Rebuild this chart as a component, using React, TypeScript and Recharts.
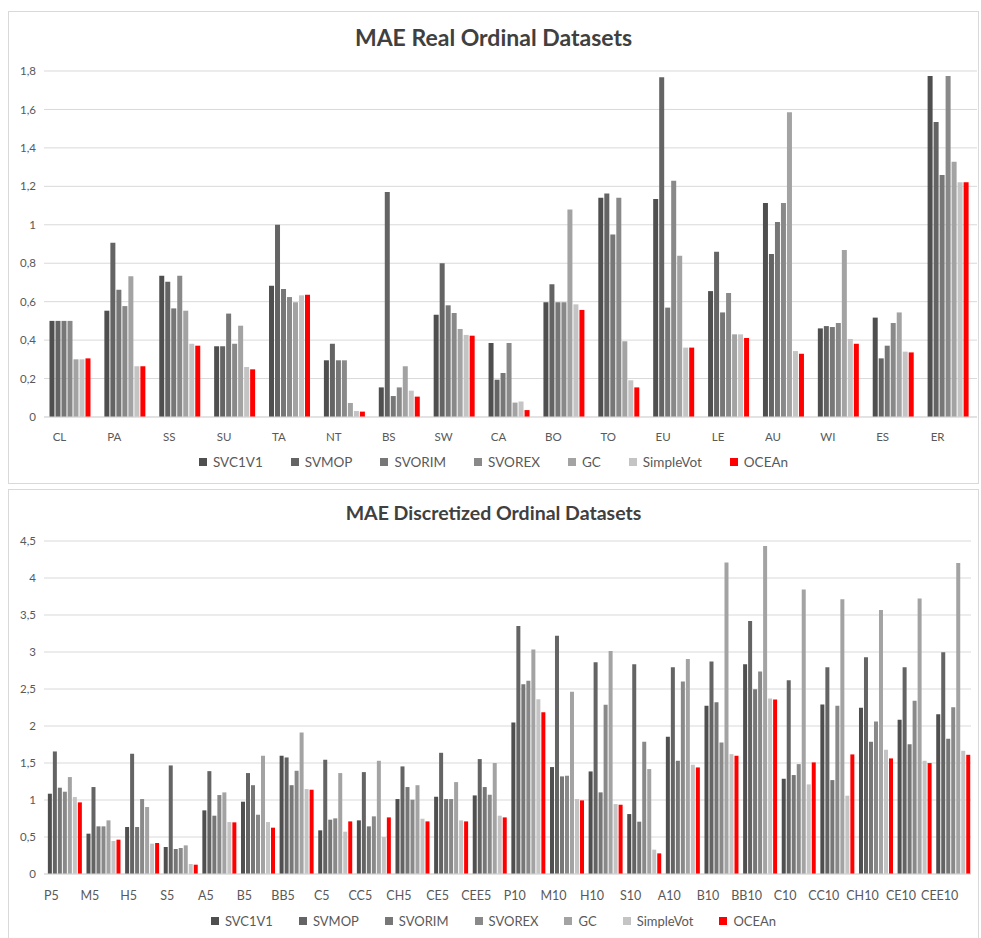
import React from 'react';
import { BarChart, Bar, XAxis, YAxis, CartesianGrid } from 'recharts';

const METHODS = ['SVC1V1', 'SVMOP', 'SVORIM', 'SVOREX', 'GC', 'SimpleVot', 'OCEAn'];
const COLORS = ['#4f4f4f', '#646464', '#777777', '#898989', '#a3a3a3', '#c4c4c4', '#ff0000'];

// top chart: real ordinal datasets
const realNames = ['CL', 'PA', 'SS', 'SU', 'TA', 'NT', 'BS', 'SW', 'CA', 'BO', 'TO', 'EU', 'LE', 'AU', 'WI', 'ES', 'ER'];
const realSVC1V1 = [0.5, 0.553, 0.735, 0.368, 0.683, 0.295, 0.154, 0.532, 0.385, 0.597, 1.141, 1.134, 0.655, 1.113, 0.461, 0.517, 1.774];
const realSVMOP = [0.5, 0.907, 0.704, 0.368, 1.0, 0.381, 1.17, 0.8, 0.194, 0.69, 1.163, 1.767, 0.86, 0.848, 0.473, 0.305, 1.535];
const realSVORIM = [0.5, 0.662, 0.565, 0.538, 0.666, 0.295, 0.109, 0.581, 0.229, 0.597, 0.95, 0.569, 0.544, 1.014, 0.468, 0.371, 1.259];
const realSVOREX = [0.5, 0.577, 0.735, 0.381, 0.624, 0.295, 0.154, 0.541, 0.385, 0.597, 1.141, 1.229, 0.645, 1.113, 0.489, 0.489, 1.774];
const realGC = [0.3, 0.732, 0.553, 0.475, 0.597, 0.073, 0.264, 0.458, 0.075, 1.079, 0.394, 0.839, 0.43, 1.585, 0.869, 0.544, 1.328];
const realSimpleVot = [0.3, 0.264, 0.381, 0.26, 0.633, 0.031, 0.137, 0.427, 0.08, 0.586, 0.191, 0.361, 0.43, 0.343, 0.406, 0.34, 1.221];
const realOCEAn = [0.305, 0.264, 0.371, 0.248, 0.636, 0.028, 0.106, 0.423, 0.036, 0.557, 0.154, 0.361, 0.411, 0.329, 0.381, 0.336, 1.221];
const realTicks = [0, 0.2, 0.4, 0.6, 0.8, 1, 1.2, 1.4, 1.6, 1.8];

// bottom chart: discretized ordinal datasets
const discNames = ['P5', 'M5', 'H5', 'S5', 'A5', 'B5', 'BB5', 'C5', 'CC5', 'CH5', 'CE5', 'CEE5', 'P10', 'M10', 'H10', 'S10', 'A10', 'B10', 'BB10', 'C10', 'CC10', 'CH10', 'CE10', 'CEE10'];
const discSVC1V1 = [1.085, 0.545, 0.635, 0.365, 0.86, 0.977, 1.598, 0.59, 0.725, 1.013, 1.044, 1.062, 2.048, 1.445, 1.386, 0.81, 1.854, 2.273, 2.835, 1.287, 2.291, 2.246, 2.084, 2.16];
const discSVMOP = [1.656, 1.175, 1.625, 1.467, 1.39, 1.364, 1.575, 1.544, 1.377, 1.454, 1.638, 1.553, 3.353, 3.218, 2.862, 2.835, 2.795, 2.871, 3.42, 2.619, 2.795, 2.93, 2.795, 2.997];
const discSVORIM = [1.166, 0.644, 0.635, 0.338, 0.788, 1.2, 1.2, 0.734, 0.644, 1.175, 1.013, 1.175, 2.565, 1.319, 1.103, 0.707, 1.53, 2.322, 2.498, 1.337, 1.269, 1.787, 1.755, 1.827];
const discSVOREX = [1.112, 0.644, 1.013, 0.351, 1.067, 0.801, 1.395, 0.752, 0.779, 1.004, 1.013, 1.071, 2.61, 1.328, 2.286, 1.787, 2.601, 1.778, 2.736, 1.485, 2.273, 2.061, 2.34, 2.255];
const discGC = [1.31, 0.725, 0.905, 0.387, 1.103, 1.598, 1.913, 1.364, 1.53, 1.2, 1.242, 1.5, 3.033, 2.462, 3.015, 1.418, 2.907, 4.208, 4.433, 3.843, 3.713, 3.569, 3.722, 4.203];
const discSimpleVot = [1.04, 0.446, 0.41, 0.135, 0.702, 0.702, 1.148, 0.572, 0.5, 0.747, 0.725, 0.788, 2.363, 1.013, 0.945, 0.329, 1.476, 1.62, 2.372, 1.211, 1.058, 1.679, 1.53, 1.665];
const discOCEAn = [0.968, 0.464, 0.419, 0.126, 0.698, 0.626, 1.139, 0.711, 0.765, 0.711, 0.711, 0.765, 2.187, 0.995, 0.936, 0.279, 1.44, 1.598, 2.358, 1.508, 1.616, 1.562, 1.499, 1.611];
const discTicks = [0, 0.5, 1, 1.5, 2, 2.5, 3, 3.5, 4, 4.5];

const buildRows = (names: string[], series: number[][]) =>
  names.map((name, i) => {
    const row: any = { name };
    METHODS.forEach((m, j) => { row[m] = series[j][i]; });
    return row;
  });

const realData = buildRows(realNames, [realSVC1V1, realSVMOP, realSVORIM, realSVOREX, realGC, realSimpleVot, realOCEAn]);
const discData = buildRows(discNames, [discSVC1V1, discSVMOP, discSVORIM, discSVOREX, discGC, discSimpleVot, discOCEAn]);

const FONT = 'Lato, "Open Sans", sans-serif';
const TEXT = '#595959';

const commaFmt = (v: number) => String(v).replace('.', ',');

const makeTick = (fontSize: number, dy: number) => (props: any) => {
  const { x, y, payload } = props;
  return (
    <text x={x - 12} y={y + dy} textAnchor="middle" fill={TEXT} fontSize={fontSize} fontFamily={FONT}>
      {payload.value}
    </text>
  );
};

const ChartLegend: React.FC<{ fontSize: number; gap: number }> = ({ fontSize, gap }) => (
  <div style={{ display: 'flex', justifyContent: 'center', gap, fontFamily: FONT, fontSize, color: TEXT }}>
    {METHODS.map((m, i) => (
      <div key={m} style={{ display: 'flex', alignItems: 'center' }}>
        <span style={{ width: 8, height: 8, background: COLORS[i], marginRight: 6, display: 'inline-block' }} />
        {m}
      </div>
    ))}
  </div>
);

interface PanelProps {
  title: string;
  data: any[];
  ticks: number[];
  top: number;
  height: number;
  chartHeight: number;
  margin: { top: number; right: number; left: number; bottom: number };
  titleTop: number;
  titleSize: number;
  legendTop: number;
  legendSize: number;
  legendGap: number;
  xFont: number;
  xDy: number;
}

const Panel: React.FC<PanelProps> = (p) => (
  <div style={{ position: 'absolute', left: 8, top: p.top, width: 969, height: p.height, border: '1px solid #d9d9d9', background: '#fff' }}>
    <div style={{ position: 'absolute', left: 0, right: 0, top: p.titleTop, textAlign: 'center', fontFamily: FONT, fontWeight: 700, fontSize: p.titleSize, color: '#404040' }}>
      {p.title}
    </div>
    <BarChart width={969} height={p.chartHeight} data={p.data} margin={p.margin} barGap={1} barCategoryGap="10%">
      <CartesianGrid vertical={false} stroke="#d9d9d9" />
      <XAxis dataKey="name" height={30} axisLine={{ stroke: '#d9d9d9' }} tickLine={false} interval={0} tick={makeTick(p.xFont, p.xDy)} />
      <YAxis width={35} domain={[0, p.ticks[p.ticks.length - 1]]} ticks={p.ticks} axisLine={false} tickLine={false}
        tickFormatter={commaFmt} tick={{ fill: TEXT, fontSize: 11.5, fontFamily: FONT }} />
      {METHODS.map((m, i) => (
        <Bar key={m} dataKey={m} fill={COLORS[i]} isAnimationActive={false} />
      ))}
    </BarChart>
    <div style={{ position: 'absolute', left: 0, right: 0, top: p.legendTop }}>
      <ChartLegend fontSize={p.legendSize} gap={p.legendGap} />
    </div>
  </div>
);

export default function App() {
  return (
    <div style={{ position: 'absolute', left: 0, top: 0, width: 981, height: 938, background: '#fff' }}>
      <Panel title="MAE Real Ordinal Datasets" data={realData} ticks={realTicks} top={11} height={471} chartHeight={471}
        margin={{ top: 59, right: 1, left: 0, bottom: 36 }} titleTop={11} titleSize={23}
        legendTop={442} legendSize={13.5} legendGap={28} xFont={11.5} xDy={16} />
      <Panel title="MAE Discretized Ordinal Datasets" data={discData} ticks={discTicks} top={489} height={449} chartHeight={447}
        margin={{ top: 51, right: 7, left: 0, bottom: 33 }} titleTop={11} titleSize={19.5}
        legendTop={423} legendSize={13} legendGap={26} xFont={12.5} xDy={18} />
    </div>
  );
}
